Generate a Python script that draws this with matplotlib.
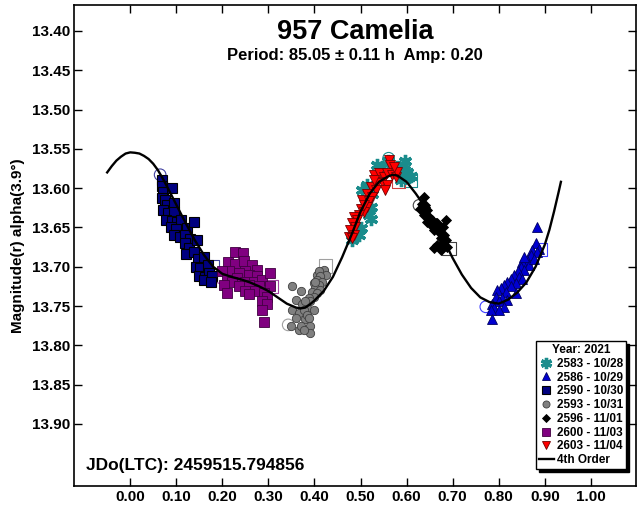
import matplotlib
matplotlib.use("Agg")
import matplotlib.pyplot as plt
import numpy as np

plt.rcParams['font.family'] = ['Liberation Sans', 'DejaVu Sans']
plt.rcParams['font.weight'] = 'bold'

# 4th order fit
fit_x = [-0.05, -0.04, -0.03, -0.02, -0.01, 0.00, 0.01, 0.02, 0.03, 0.04, 0.05, 0.06, 0.07,
         0.08, 0.10, 0.12, 0.14, 0.16, 0.18, 0.20, 0.22, 0.24, 0.26, 0.28, 0.30, 0.32, 0.34,
         0.36, 0.37, 0.38, 0.39, 0.40, 0.42, 0.44, 0.46, 0.48, 0.50, 0.52, 0.54, 0.56, 0.57,
         0.58, 0.60, 0.62, 0.64, 0.66, 0.68, 0.70, 0.72, 0.74, 0.76, 0.78, 0.80, 0.82, 0.84,
         0.86, 0.88, 0.90, 0.91, 0.92, 0.93, 0.935]
fit_y = [13.580, 13.572, 13.565, 13.560, 13.556, 13.5545, 13.555, 13.556, 13.559, 13.563,
         13.569, 13.577, 13.587, 13.598, 13.621, 13.644, 13.666, 13.685, 13.700, 13.709,
         13.713, 13.716, 13.720, 13.725, 13.731, 13.739, 13.747, 13.752, 13.753, 13.752,
         13.748, 13.743, 13.731, 13.713, 13.688, 13.660, 13.630, 13.607, 13.592, 13.585,
         13.583, 13.584, 13.592, 13.607, 13.624, 13.643, 13.665, 13.689, 13.710, 13.727,
         13.739, 13.745, 13.747, 13.742, 13.733, 13.720, 13.700, 13.672, 13.653, 13.630,
         13.605, 13.592]

# 2583 - 10/28 (teal asterisks)
s2583_x = [0.536, 0.594, 0.601, 0.605, 0.587, 0.514, 0.504, 0.525, 0.522, 0.518, 0.522,
           0.500, 0.496, 0.485, 0.591, 0.547, 0.580, 0.560, 0.610, 0.597, 0.482]
s2583_y = [13.571, 13.571, 13.579, 13.586, 13.590, 13.596, 13.603, 13.607, 13.624, 13.634,
           13.639, 13.651, 13.660, 13.662, 13.575, 13.573, 13.573, 13.566, 13.584, 13.566, 13.666]

# 2586 - 10/29 (blue triangles)
s2586_x = [0.884, 0.880, 0.888, 0.873, 0.884, 0.870, 0.862, 0.851, 0.866, 0.848, 0.855,
           0.841, 0.833, 0.844, 0.826, 0.851, 0.819, 0.837, 0.812, 0.826, 0.804, 0.837,
           0.815, 0.797, 0.793, 0.808, 0.819, 0.801, 0.786, 0.812, 0.790, 0.801, 0.783,
           0.786, 0.855, 0.877]
s2586_y = [13.649, 13.670, 13.677, 13.679, 13.681, 13.685, 13.691, 13.694, 13.698, 13.700,
           13.704, 13.706, 13.711, 13.713, 13.715, 13.715, 13.719, 13.721, 13.723, 13.725,
           13.727, 13.734, 13.732, 13.730, 13.738, 13.740, 13.742, 13.744, 13.747, 13.751,
           13.753, 13.755, 13.755, 13.766, 13.687, 13.690]

# 2590 - 10/30 (navy squares)
s2590_x = [0.068, 0.070, 0.072, 0.090, 0.068, 0.075, 0.080, 0.094, 0.072, 0.082, 0.095,
           0.078, 0.090, 0.101, 0.110, 0.088, 0.100, 0.123, 0.138, 0.095, 0.108, 0.120,
           0.130, 0.120, 0.128, 0.145, 0.122, 0.138, 0.148, 0.160, 0.142, 0.152, 0.168,
           0.150, 0.162, 0.172, 0.160, 0.178, 0.176]
s2590_y = [13.590, 13.597, 13.605, 13.600, 13.612, 13.615, 13.622, 13.619, 13.628, 13.632,
           13.630, 13.640, 13.642, 13.643, 13.640, 13.650, 13.652, 13.651, 13.643, 13.660,
           13.662, 13.660, 13.665, 13.670, 13.676, 13.666, 13.684, 13.681, 13.690, 13.687,
           13.700, 13.702, 13.698, 13.712, 13.713, 13.708, 13.717, 13.712, 13.720]

# 2593 - 10/31 (gray circles)
s2593_x = [0.351, 0.370, 0.399, 0.413, 0.420, 0.406, 0.359, 0.373, 0.351, 0.366, 0.384,
           0.399, 0.359, 0.380, 0.391, 0.348, 0.366, 0.420, 0.409, 0.424, 0.413, 0.406,
           0.417, 0.409, 0.402, 0.413, 0.395, 0.406, 0.399, 0.388, 0.391, 0.380, 0.377,
           0.384, 0.388, 0.370, 0.390, 0.377, 0.402]
s2593_y = [13.725, 13.731, 13.721, 13.716, 13.706, 13.710, 13.742, 13.748, 13.755, 13.759,
           13.752, 13.755, 13.765, 13.767, 13.776, 13.776, 13.780, 13.704, 13.706, 13.710,
           13.712, 13.717, 13.719, 13.723, 13.727, 13.730, 13.732, 13.734, 13.738, 13.740,
           13.744, 13.744, 13.755, 13.761, 13.765, 13.776, 13.784, 13.781, 13.719]

# 2596 - 11/01 (black diamonds)
s2596_x = [0.638, 0.634, 0.641, 0.630, 0.645, 0.638, 0.649, 0.656, 0.652, 0.667, 0.685,
           0.678, 0.659, 0.670, 0.681, 0.674, 0.685, 0.678, 0.667, 0.659, 0.674, 0.688,
           0.663, 0.645, 0.641]
s2596_y = [13.611, 13.620, 13.624, 13.626, 13.628, 13.634, 13.637, 13.641, 13.647, 13.645,
           13.640, 13.649, 13.653, 13.656, 13.660, 13.664, 13.666, 13.670, 13.672, 13.676,
           13.679, 13.675, 13.645, 13.643, 13.622]

# 2600 - 11/03 (purple squares)
s2600_x = [0.228, 0.245, 0.212, 0.228, 0.246, 0.264, 0.275, 0.250, 0.214, 0.199, 0.236,
           0.257, 0.275, 0.232, 0.210, 0.221, 0.250, 0.268, 0.286, 0.304, 0.203, 0.236,
           0.257, 0.279, 0.304, 0.210, 0.250, 0.272, 0.290, 0.257, 0.297, 0.286, 0.297,
           0.286, 0.291]
s2600_y = [13.681, 13.682, 13.694, 13.696, 13.693, 13.698, 13.704, 13.706, 13.706, 13.706,
           13.708, 13.710, 13.712, 13.714, 13.717, 13.719, 13.719, 13.719, 13.717, 13.708,
           13.723, 13.724, 13.723, 13.725, 13.725, 13.733, 13.731, 13.731, 13.733, 13.735,
           13.738, 13.744, 13.748, 13.755, 13.770]

# 2603 - 11/04 (red down triangles)
s2603_x = [0.562, 0.565, 0.529, 0.540, 0.551, 0.558, 0.569, 0.576, 0.547, 0.536, 0.558,
           0.522, 0.533, 0.554, 0.514, 0.525, 0.504, 0.518, 0.514, 0.500, 0.507, 0.496,
           0.485, 0.493, 0.482, 0.489, 0.478, 0.485, 0.475, 0.482, 0.507, 0.529, 0.580, 0.572]
s2603_y = [13.564, 13.571, 13.583, 13.581, 13.586, 13.581, 13.583, 13.586, 13.592, 13.594,
           13.596, 13.598, 13.603, 13.603, 13.607, 13.611, 13.615, 13.617, 13.624, 13.626,
           13.630, 13.634, 13.637, 13.641, 13.645, 13.649, 13.653, 13.660, 13.662, 13.664,
           13.622, 13.590, 13.579, 13.573]

# session start (open circle) / end (open square) markers
start_x = [0.065, 0.196, 0.343, 0.561, 0.627, 0.772]
start_y = [13.583, 13.714, 13.774, 13.562, 13.622, 13.751]
start_c = ['#4040a0', '#a040a0', '#a0a0a0', '#1a8c8c', '#404040', '#4040ff']
end_x = [0.178, 0.306, 0.424, 0.609, 0.583, 0.692, 0.891]
end_y = [13.700, 13.725, 13.699, 13.590, 13.592, 13.677, 13.678]
end_c = ['#4040a0', '#a040a0', '#a0a0a0', '#1a8c8c', '#d04040', '#404040', '#4040ff']

fig = plt.figure(figsize=(6.37, 5.07), dpi=100)
ax = fig.add_axes([74 / 637, 21 / 507, 562 / 637, 481 / 507])

ax.scatter(start_x, start_y, s=70, facecolors='none', edgecolors=start_c, linewidths=0.8, zorder=1)
ax.scatter(end_x, end_y, s=90, marker='s', facecolors='none', edgecolors=end_c, linewidths=0.8, zorder=1)

ax.plot(s2583_x, s2583_y, ls='none', marker=(6, 2, 0), ms=9.5, mew=2.4, color='#1a8c8c',
        label='2583 - 10/28', zorder=2)
ax.plot(s2586_x, s2586_y, ls='none', marker='^', ms=7, mfc='#0000d0', mec='#000060', mew=0.6,
        label='2586 - 10/29', zorder=2)
ax.plot(s2590_x, s2590_y, ls='none', marker='s', ms=6.5, mfc='#000080', mec='black', mew=0.8,
        label='2590 - 10/30', zorder=2)
ax.plot(s2593_x, s2593_y, ls='none', marker='o', ms=6, mfc='#808080', mec='#404040', mew=0.6,
        label='2593 - 10/31', zorder=2)
ax.plot(s2596_x, s2596_y, ls='none', marker='D', ms=5, mfc='black', mec='black', mew=0.6,
        label='2596 - 11/01', zorder=2)
ax.plot(s2600_x, s2600_y, ls='none', marker='s', ms=6.5, mfc='#800080', mec='#400040', mew=0.6,
        label='2600 - 11/03', zorder=2)
ax.plot(s2603_x, s2603_y, ls='none', marker='v', ms=7, mfc='#ff0000', mec='#700000', mew=0.6,
        label='2603 - 11/04', zorder=3)
ax.plot(fit_x, fit_y, color='black', lw=1.7, label='4th Order', zorder=4)

ax.set_xlim(-0.122, 1.098)
ax.set_ylim(13.979, 13.367)
ax.set_xticks(np.arange(0, 1.01, 0.1))
ax.set_xticklabels([f'{v:.2f}' for v in np.arange(0, 1.01, 0.1)])
ax.set_yticks(np.arange(13.40, 13.91, 0.05))
ax.set_yticklabels([f'{v:.2f}' for v in np.arange(13.40, 13.91, 0.05)])
ax.tick_params(direction='in', length=6, width=1, top=True, right=True, labelsize=11, pad=3)
for sp in ax.spines.values():
    sp.set_linewidth(1.2)

ax.set_ylabel('Magnitude(r) alpha(3.9°)', fontsize=11, fontweight='bold', labelpad=5)

ax.text(0.5, 0.944, '957 Camelia', transform=ax.transAxes, ha='center', va='center',
        fontsize=19.5, fontweight='bold')
ax.text(0.5, 0.896, 'Period: 85.05 ± 0.11 h  Amp: 0.20', transform=ax.transAxes,
        ha='center', va='center', fontsize=12, fontweight='bold')
ax.text(0.021, 0.042, 'JDo(LTC): 2459515.794856', transform=ax.transAxes,
        ha='left', va='center', fontsize=12.5, fontweight='bold')

leg = ax.legend(loc='lower right', bbox_to_anchor=(0.983, 0.035), title='Year: 2021',
                title_fontproperties={'weight': 'bold', 'size': 8.5},
                prop={'weight': 'bold', 'size': 8.5}, fancybox=False,
                shadow={'color': 'black', 'alpha': 1, 'ox': 2, 'oy': -2},
                edgecolor='black', framealpha=1, handlelength=1.3, handletextpad=0.25,
                labelspacing=0.15, borderpad=0.25, borderaxespad=0, markerscale=0.85)
leg.get_frame().set_linewidth(1.0)

fig.savefig('out.png', dpi=100)
